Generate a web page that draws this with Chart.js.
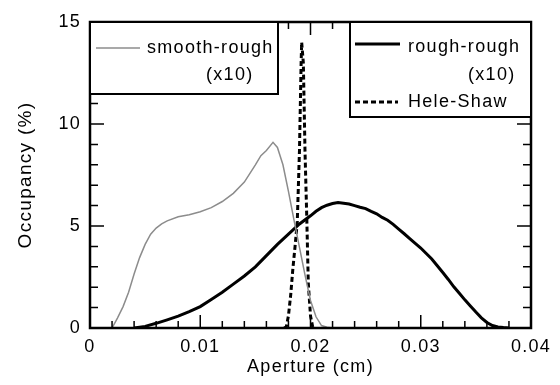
<!DOCTYPE html>
<html>
<head>
<meta charset="utf-8">
<script src="https://cdn.jsdelivr.net/npm/chart.js@4.4.1/dist/chart.umd.min.js"></script>
<style>
  html, body { margin: 0; padding: 0; background: #fff; }
  #wrap { width: 560px; height: 385px; }
</style>
</head>
<body>
<div id="wrap"><canvas id="chart"></canvas></div>
<script>
// aperture (cm) / occupancy (%)
const srX = [0.0020, 0.0025, 0.0030, 0.0035, 0.0040, 0.0045, 0.0050, 0.0055, 0.0060, 0.0065,
             0.0070, 0.0080, 0.0090, 0.0100, 0.0110, 0.0120, 0.0130, 0.0140, 0.0150, 0.0155,
             0.0160, 0.0166, 0.0170, 0.0175, 0.0180, 0.0185, 0.0190, 0.0195, 0.0200, 0.0205,
             0.0210, 0.0215, 0.0220];
const srY = [0, 0.5, 1.05, 1.75, 2.65, 3.45, 4.1, 4.6, 4.9, 5.1,
             5.25, 5.45, 5.55, 5.7, 5.9, 6.2, 6.6, 7.15, 8.0, 8.45,
             8.7, 9.1, 8.85, 8.0, 6.7, 5.3, 3.95, 2.6, 1.35, 0.55,
             0.12, 0.04, 0];

const rrX = [0.0040, 0.0050, 0.0060, 0.0070, 0.0080, 0.0090, 0.0100, 0.0110, 0.0120, 0.0130,
             0.0140, 0.0150, 0.0160, 0.0170, 0.0180, 0.0190, 0.0200, 0.0205, 0.0210, 0.0215,
             0.0220, 0.0225, 0.0230, 0.0235, 0.0240, 0.0245, 0.0250, 0.0255, 0.0260, 0.0265,
             0.0270, 0.0275, 0.0280, 0.0285, 0.0290, 0.0295, 0.0300, 0.0305, 0.0310, 0.0315,
             0.0320, 0.0325, 0.0330, 0.0335, 0.0340, 0.0345, 0.0350, 0.0355, 0.0360, 0.0365,
             0.0370, 0.0375, 0.0380];
const rrY = [0, 0.08, 0.23, 0.4, 0.58, 0.8, 1.05, 1.4, 1.75, 2.15,
             2.55, 3.0, 3.55, 4.1, 4.6, 5.1, 5.5, 5.72, 5.9, 6.02,
             6.1, 6.15, 6.12, 6.08, 6.0, 5.92, 5.85, 5.72, 5.6, 5.42,
             5.28, 5.08, 4.85, 4.62, 4.38, 4.15, 3.92, 3.65, 3.38, 3.05,
             2.72, 2.38, 2.02, 1.7, 1.38, 1.08, 0.78, 0.5, 0.27, 0.12,
             0.05, 0.02, 0];

const hsX = [0.0176, 0.0178, 0.0180, 0.0182, 0.0184, 0.0186, 0.0188, 0.0190, 0.01915, 0.0192,
             0.01935, 0.0195, 0.01966, 0.0198, 0.0200, 0.0202, 0.0204];
const hsY = [0, 0.05, 0.6, 1.6, 2.9, 4.0, 5.2, 8.7, 13.0, 14.0,
             13.0, 8.7, 5.46, 2.2, 0.6, 0.05, 0];

const seriesNames = ['smooth-rough', 'rough-rough', 'Hele-Shaw'];
const xTicks = [0, 0.01, 0.02, 0.03, 0.04];
const yTicks = [0, 5, 10, 15];

const FONT = '"Liberation Sans", Arial, sans-serif';

function pts(xs, ys) {
    return xs.map((x, i) => ({x: x, y: ys[i]}));
}

// inward ticks, frame and the two boxed legends
const frameAndLegend = {
    id: 'frameAndLegend',
    beforeDraw(chart) {
        chart.ctx.letterSpacing = '1.3px';
    },
    afterDatasetsDraw(chart) {
        const {ctx, chartArea: a, scales: {x, y}} = chart;
        ctx.save();
        ctx.strokeStyle = '#000';
        ctx.lineWidth = 1.5;
        ctx.beginPath();
        for (let i = 0; i <= 20; i++) {
            const px = x.getPixelForValue(i * 0.002);
            const len = i % 5 === 0 ? 13 : 7;
            ctx.moveTo(px, a.bottom); ctx.lineTo(px, a.bottom - len);
            ctx.moveTo(px, a.top); ctx.lineTo(px, a.top + len);
        }
        for (let i = 0; i <= 15; i++) {
            const py = y.getPixelForValue(i);
            const len = i % 5 === 0 ? 14 : 8;
            ctx.moveTo(a.left, py); ctx.lineTo(a.left + len, py);
            ctx.moveTo(a.right, py); ctx.lineTo(a.right - len, py);
        }
        ctx.stroke();
        ctx.lineWidth = 2.5;
        ctx.strokeRect(a.left, a.top, a.right - a.left, a.bottom - a.top);

        // legend boxes
        const ds = chart.data.datasets;
        ctx.lineWidth = 2;
        ctx.fillStyle = '#fff';
        ctx.fillRect(a.left, a.top, 188, 72);
        ctx.strokeRect(a.left, a.top, 188, 72);
        ctx.fillRect(350, a.top, a.right - 350, 95);
        ctx.strokeRect(350, a.top, a.right - 350, 95);

        ctx.fillStyle = '#000';
        ctx.font = '18px ' + FONT;
        ctx.letterSpacing = '1.3px';
        ctx.textBaseline = 'alphabetic';
        ctx.textAlign = 'left';

        function sample(d, x0, x1, yy) {
            ctx.save();
            ctx.strokeStyle = d.borderColor;
            ctx.lineWidth = d.borderWidth;
            ctx.setLineDash(d.borderDash || []);
            ctx.beginPath();
            ctx.moveTo(x0, yy); ctx.lineTo(x1, yy);
            ctx.stroke();
            ctx.restore();
        }
        sample(ds[0], 96, 140, 48);
        ctx.fillText(seriesNames[0], 147, 53);
        ctx.fillText('(x10)', 206, 80);

        sample(ds[1], 355, 400, 44);
        ctx.fillText(seriesNames[1], 408, 52);
        ctx.fillText('(x10)', 468, 80);
        sample(ds[2], 355, 398, 102);
        ctx.fillText(seriesNames[2], 408, 107);
        ctx.restore();
    }
};

new Chart(document.getElementById('chart'), {
    type: 'line',
    data: {
        datasets: [
            {label: seriesNames[0], data: pts(srX, srY), borderColor: 'rgb(140,140,140)', borderWidth: 1.5},
            {label: seriesNames[1], data: pts(rrX, rrY), borderColor: '#000', borderWidth: 3},
            {label: seriesNames[2], data: pts(hsX, hsY), borderColor: '#000', borderWidth: 3, borderDash: [5, 3]}
        ]
    },
    options: {
        responsive: true,
        maintainAspectRatio: false,
        animation: false,
        events: [],
        elements: {point: {radius: 0}, line: {tension: 0, fill: false}},
        layout: {padding: {top: 22, right: 29, left: 0, bottom: 0}},
        plugins: {legend: {display: false}, tooltip: {enabled: false}},
        scales: {
            x: {
                type: 'linear', min: 0, max: 0.04,
                afterFit: s => { s.height = 57; },
                afterBuildTicks: s => { s.ticks = xTicks.map(v => ({value: v})); },
                grid: {display: false, drawTicks: false},
                border: {display: false},
                ticks: {
                    color: '#000', padding: 8,
                    font: {size: 18, family: FONT},
                    callback: v => v === 0 ? '0' : v.toFixed(2)
                },
                title: {
                    display: true, text: 'Aperture (cm)', color: '#000',
                    font: {size: 18, family: FONT}, padding: {top: 0, bottom: 7}
                }
            },
            y: {
                min: 0, max: 15,
                afterFit: s => { s.width = 90; },
                afterBuildTicks: s => { s.ticks = yTicks.map(v => ({value: v})); },
                grid: {display: false, drawTicks: false},
                border: {display: false},
                ticks: {
                    color: '#000', padding: 9,
                    font: {size: 18, family: FONT}
                },
                title: {
                    display: true, text: 'Occupancy (%)', color: '#000',
                    font: {size: 19, family: FONT}, padding: {top: 14, bottom: 0}
                }
            }
        }
    },
    plugins: [frameAndLegend]
});
</script>
</body>
</html>
